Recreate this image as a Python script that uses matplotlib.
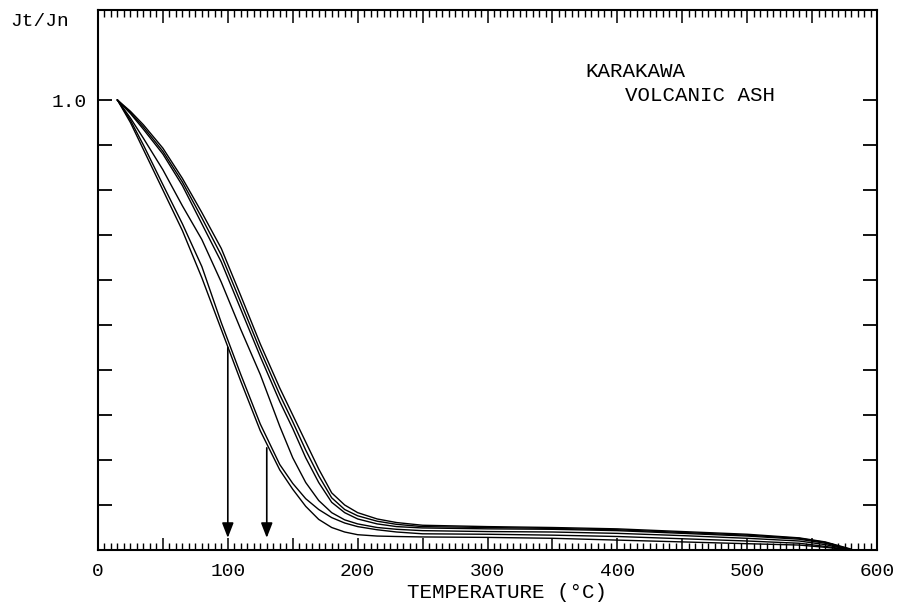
import matplotlib
matplotlib.use("Agg")
from matplotlib import pyplot as plt
from matplotlib.ticker import MultipleLocator, FuncFormatter
import numpy as np

# temperature steps (deg C)
temp = [15, 25, 35, 50, 65, 80, 95, 110, 125, 140, 150, 160, 170, 180, 190, 200,
        215, 230, 250, 300, 350, 400, 450, 500, 540, 560, 580]

# Jt/Jn for each sample
curve_a = [1.0, 0.95, 0.89, 0.80, 0.71, 0.605, 0.49, 0.375, 0.265, 0.178, 0.135, 0.097,
           0.068, 0.050, 0.040, 0.034, 0.031, 0.030, 0.029, 0.028, 0.026, 0.022, 0.018,
           0.014, 0.011, 0.006, 0.0]
curve_b = [1.0, 0.955, 0.90, 0.812, 0.725, 0.63, 0.505, 0.39, 0.28, 0.19, 0.148, 0.114,
           0.09, 0.072, 0.060, 0.052, 0.045, 0.040, 0.036, 0.035, 0.033, 0.030, 0.025,
           0.020, 0.015, 0.008, 0.0]
curve_c = [1.0, 0.96, 0.915, 0.845, 0.765, 0.69, 0.595, 0.49, 0.39, 0.275, 0.205, 0.15,
           0.11, 0.083, 0.067, 0.058, 0.050, 0.046, 0.043, 0.041, 0.040, 0.037, 0.032,
           0.026, 0.020, 0.012, 0.0]
curve_d = [1.0, 0.97, 0.935, 0.88, 0.81, 0.725, 0.64, 0.535, 0.43, 0.33, 0.27, 0.205,
           0.15, 0.106, 0.083, 0.069, 0.058, 0.052, 0.049, 0.047, 0.046, 0.043, 0.037,
           0.031, 0.024, 0.015, 0.0]
curve_e = [1.0, 0.975, 0.945, 0.893, 0.826, 0.75, 0.67, 0.565, 0.458, 0.36, 0.30, 0.24,
           0.18, 0.127, 0.10, 0.083, 0.069, 0.061, 0.055, 0.052, 0.050, 0.047, 0.041,
           0.035, 0.027, 0.018, 0.002]
curve_f = [1.0, 0.972, 0.94, 0.886, 0.818, 0.738, 0.655, 0.55, 0.444, 0.345, 0.285, 0.222,
           0.165, 0.116, 0.090, 0.076, 0.064, 0.057, 0.052, 0.050, 0.048, 0.045, 0.039,
           0.033, 0.026, 0.017, 0.001]
curves = [curve_a, curve_b, curve_c, curve_d, curve_e, curve_f]

# arrows: (temperature, start value, end value)
arrows = [(100, 0.45, 0.027), (130, 0.227, 0.027)]

font = "Liberation Mono"
plt.rcParams['font.family'] = [font, 'DejaVu Sans Mono']

fig = plt.figure(figsize=(9.07, 6.04), dpi=100)
ax = fig.add_axes([0.108, 0.0894, 0.859, 0.894])

for c in curves:
    ax.plot(temp, c, color="black", lw=1.0)

for x, y0, y1 in arrows:
    ax.annotate("", xy=(x, y1), xytext=(x, y0),
                arrowprops=dict(arrowstyle="-|>,head_width=0.35,head_length=0.9",
                                color="black", lw=1.2, shrinkA=0, shrinkB=0))

ax.set_xlim(0, 600)
ax.set_ylim(0, 1.2)

ax.xaxis.set_major_locator(MultipleLocator(50))
ax.xaxis.set_minor_locator(MultipleLocator(5))
ax.xaxis.set_major_formatter(FuncFormatter(lambda v, p: "%d" % v if v % 100 == 0 else ""))
ax.set_yticks(np.arange(0, 1.01, 0.1))
ax.yaxis.set_major_formatter(FuncFormatter(lambda v, p: "1.0" if abs(v - 1.0) < 1e-6 else ""))

ax.tick_params(axis="x", which="major", direction="in", top=True, length=9, width=1.1,
               labelsize=14, pad=9)
ax.tick_params(axis="x", which="minor", direction="in", top=True, length=5, width=1.0)
ax.tick_params(axis="y", which="major", direction="in", right=True, length=10, width=1.3,
               labelsize=14, pad=8)

for s in ax.spines.values():
    s.set_linewidth(1.5)

ax.text(375, 1.064, "KARAKAWA", fontsize=15, va="center", ha="left")
ax.text(406, 1.009, "VOLCANIC ASH", fontsize=15, va="center", ha="left")

fig.text(10 / 907, 1 - 22 / 604, "Jt/Jn", fontsize=14, va="center", ha="left")
fig.text(507 / 907, 1 - 593 / 604, "TEMPERATURE (°C)", fontsize=15, va="center", ha="center")

fig.savefig("out.png", dpi=100)
